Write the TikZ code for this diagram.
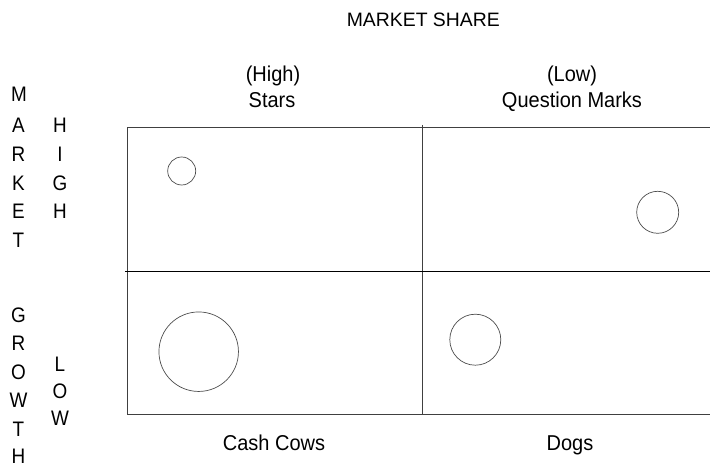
\documentclass[tikz,border=0pt]{standalone}
\usepackage{fontspec}
\setmainfont{Liberation Sans}
\newfontfamily\lblfont[FakeStretch=0.93]{Liberation Sans}
\newfontfamily\letfont[FakeStretch=0.9]{Liberation Sans}
\begin{document}
\begin{tikzpicture}[x=1pt,y=-1pt,
  lbl/.style={inner sep=0pt, anchor=base, font=\lblfont\fontsize{21.5}{24}\selectfont},
  ttl/.style={inner sep=0pt, anchor=base, font=\fontsize{19.4}{22}\selectfont},
  vlet/.style={inner sep=0pt, anchor=base, font=\letfont\fontsize{21}{24}\selectfont},
  frame/.style={draw=black!75, line width=1pt},
  bubble/.style={circle, draw=black!70, line width=0.7pt, inner sep=0pt}]
\useasboundingbox (0,0) rectangle (710,470);
% frame
\coordinate (tl) at (127.7,127.3);
\coordinate (bl) at (127.7,414.7);
\coordinate (tr) at (712,127.3);
\coordinate (br) at (712,414.7);
\coordinate (vt) at (422.5,125);
\coordinate (vb) at (422.5,414.7);
\coordinate (hl) at (125,271.3);
\coordinate (hr) at (712,271.3);
\draw[frame] (tr) -- (tl) -- (bl) -- (br);
\draw[frame] (vt) -- (vb);
\draw[line width=1pt, black] (hl) -- (hr);
% bubbles
\node[bubble, minimum size=28pt] (b1) at (181.7,171) {};
\node[bubble, minimum size=42pt] (b2) at (657.7,212.3) {};
\node[bubble, minimum size=51pt] (b3) at (475.3,339.7) {};
\node[bubble, minimum size=79.5pt] (b4) at (198.7,351.7) {};
% labels
\node[ttl] (ms) at (423.3,26.7) {MARKET SHARE};
\node[lbl] (hi) at (273,82) {(High)};
\node[lbl] (st) at (272,108) {Stars};
\node[lbl] (lo) at (572,82) {(Low)};
\node[lbl] (qm) at (572,108) {Question Marks};
\node[lbl] (cc) at (274,450) {Cash Cows};
\node[lbl] (dg) at (570,450) {Dogs};
% vertical letters
\node[vlet] (m1) at (19,101.7) {M};
\node[vlet] (m2) at (18.5,133) {A};
\node[vlet] (m3) at (18.5,162) {R};
\node[vlet] (m4) at (18.5,190.5) {K};
\node[vlet] (m5) at (18.5,219) {E};
\node[vlet] (m6) at (18.5,247.5) {T};
\node[vlet] (g1) at (18.5,323) {G};
\node[vlet] (g2) at (18.5,351) {R};
\node[vlet] (g3) at (18.5,379.5) {O};
\node[vlet] (g4) at (18.5,408) {W};
\node[vlet] (g5) at (18.5,436) {T};
\node[vlet] (g6) at (18.5,464) {H};
\node[vlet] (h1) at (60,133) {H};
\node[vlet] (h2) at (60,162) {I};
\node[vlet] (h3) at (60,190.5) {G};
\node[vlet] (h4) at (60,219) {H};
\node[vlet] (l1) at (60,371.7) {L};
\node[vlet] (l2) at (60,398.5) {O};
\node[vlet] (l3) at (60,425) {W};
\end{tikzpicture}
\end{document}
